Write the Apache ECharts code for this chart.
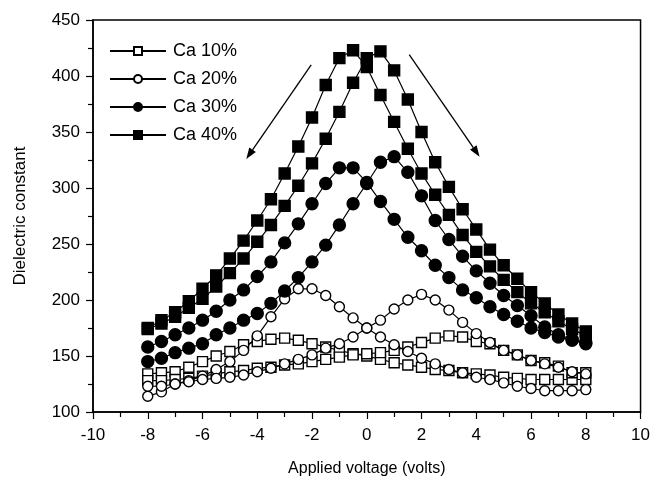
<!DOCTYPE html>
<html>
<head>
<meta charset="utf-8">
<script src="https://cdn.jsdelivr.net/npm/echarts@6/dist/echarts.min.js"></script>
<style>
  html, body { margin: 0; padding: 0; background: #fff; }
  #chart { width: 653px; height: 485px; }
</style>
</head>
<body>
<div id="chart"></div>
<script>
// Applied bias (V), swept in 0.5 V steps
var voltage = [-8, -7.5, -7, -6.5, -6, -5.5, -5, -4.5, -4, -3.5, -3, -2.5, -2, -1.5, -1, -0.5,
               0, 0.5, 1, 1.5, 2, 2.5, 3, 3.5, 4, 4.5, 5, 5.5, 6, 6.5, 7, 7.5, 8];

// Dielectric constant, two sweep branches per composition
var ca10Down = [134, 135, 136, 140, 145, 150, 154, 160, 163, 165, 166, 164, 161, 158, 155, 152,
                150, 147, 144, 142, 140, 138, 137, 135, 134, 133, 131, 130, 129, 129, 129, 129, 129];
var ca10Up   = [128, 128, 129, 130, 132, 134, 136, 137, 139, 140, 142, 143, 145, 147, 149, 151,
                152, 153, 155, 158, 162, 166, 168, 167, 163, 161, 155, 151, 146, 144, 141, 135, 135];

var ca20Down = [114, 118, 125, 128, 132, 138, 145, 155, 168, 185, 201, 210, 210, 204, 194, 184,
                175, 167, 160, 154, 148, 143, 138, 135, 131, 129, 126, 123, 121, 119, 119, 119, 120];
var ca20Up   = [123, 123, 125, 127, 129, 130, 131, 133, 136, 139, 143, 147, 151, 157, 161, 167,
                175, 182, 192, 200, 205, 200, 191, 180, 170, 162, 155, 151, 146, 143, 140, 136, 134];

var ca30Down = [158, 163, 169, 175, 182, 190, 200, 209, 221, 234, 251, 268, 286, 304, 318, 318,
                305, 288, 272, 256, 244, 231, 220, 209, 202, 194, 187, 181, 175, 171, 167, 164, 161];
var ca30Up   = [145, 148, 153, 157, 161, 169, 175, 182, 188, 197, 208, 220, 234, 249, 267, 286,
                304, 323, 328, 314, 293, 271, 254, 239, 226, 215, 204, 195, 186, 176, 169, 165, 162];

var ca40Down = [175, 182, 189, 199, 210, 222, 237, 253, 271, 290, 313, 337, 363, 392, 416, 423,
                408, 383, 359, 335, 313, 294, 276, 258, 243, 230, 218, 207, 197, 189, 181, 174, 168];
var ca40Up   = [174, 179, 185, 193, 201, 212, 224, 237, 252, 267, 284, 302, 322, 344, 368, 394,
                416, 422, 405, 379, 350, 323, 301, 281, 263, 245, 231, 219, 207, 197, 187, 179, 172];

var seriesNames = ['Ca 10%', 'Ca 20%', 'Ca 30%', 'Ca 40%'];

// Sweep-direction arrows: [start, end] in (V, dielectric constant)
var arrowLeft  = [[-2.03, 410], [-4.40, 326]];
var arrowRight = [[1.55, 419], [4.12, 328]];

function pairs(values) {
  return voltage.map(function (v, i) { return [v, values[i]]; });
}

var markerStyles = {
  'Ca 10%': { symbol: 'rect',   size: 10, fill: '#fff' },
  'Ca 20%': { symbol: 'circle', size: 10, fill: '#fff' },
  'Ca 30%': { symbol: 'circle', size: 12, fill: '#000' },
  'Ca 40%': { symbol: 'rect',   size: 11, fill: '#000' }
};

function makeSeries(name, values) {
  var m = markerStyles[name];
  return {
    name: name,
    type: 'line',
    data: pairs(values),
    symbol: m.symbol,
    symbolSize: m.size,
    showAllSymbol: true,
    lineStyle: { color: '#000', width: 1.2 },
    itemStyle: { color: m.fill, borderColor: '#000', borderWidth: 1.4 },
    emphasis: { disabled: true },
    animation: false
  };
}

var series = [
  makeSeries('Ca 10%', ca10Down), makeSeries('Ca 10%', ca10Up),
  makeSeries('Ca 20%', ca20Down), makeSeries('Ca 20%', ca20Up),
  makeSeries('Ca 30%', ca30Down), makeSeries('Ca 30%', ca30Up),
  makeSeries('Ca 40%', ca40Down), makeSeries('Ca 40%', ca40Up)
];

// sweep-direction arrows: shaft plus arrowhead, placed through the axes
function arrowItem(params, api) {
  var p0 = api.coord([api.value(0), api.value(1)]);
  var p1 = api.coord([api.value(2), api.value(3)]);
  var dx = p1[0] - p0[0], dy = p1[1] - p0[1];
  var len = Math.sqrt(dx * dx + dy * dy);
  var ux = dx / len, uy = dy / len;
  var headLen = 11, headHalf = 4;
  var bx = p1[0] - ux * headLen, by = p1[1] - uy * headLen;
  return {
    type: 'group',
    children: [
      { type: 'line', shape: { x1: p0[0], y1: p0[1], x2: bx, y2: by },
        style: { stroke: '#000', lineWidth: 1.3 } },
      { type: 'polygon', shape: { points: [
          [p1[0], p1[1]],
          [bx - uy * headHalf, by + ux * headHalf],
          [bx + uy * headHalf, by - ux * headHalf]
        ] }, style: { fill: '#000' } }
    ]
  };
}

series.push({
  type: 'custom',
  silent: true,
  animation: false,
  renderItem: arrowItem,
  encode: { x: [0, 2], y: [1, 3] },
  data: [
    [arrowLeft[0][0], arrowLeft[0][1], arrowLeft[1][0], arrowLeft[1][1]],
    [arrowRight[0][0], arrowRight[0][1], arrowRight[1][0], arrowRight[1][1]]
  ]
});

var chart = echarts.init(document.getElementById('chart'), null, { renderer: 'canvas' });
var textFont = 'Liberation Sans, Arial, sans-serif';

chart.setOption({
  backgroundColor: '#fff',
  animation: false,
  textStyle: { fontFamily: textFont, color: '#000' },
  grid: {
    left: 93, right: 11, top: 20, bottom: 73,
    show: true, borderColor: '#000', borderWidth: 1.5, backgroundColor: 'transparent'
  },
  legend: {
    data: seriesNames,
    orient: 'vertical',
    left: 104,
    top: 37,
    itemWidth: 56,
    itemHeight: 10,
    itemGap: 10,
    selectedMode: false,
    textStyle: { fontSize: 18, color: '#000', fontFamily: textFont, padding: [0, 0, 0, 2] }
  },
  xAxis: {
    type: 'value',
    min: -10, max: 10, interval: 2,
    name: 'Applied voltage (volts)',
    nameLocation: 'middle',
    nameGap: 49,
    nameTextStyle: { fontSize: 16, color: '#000' },
    axisLine: { onZero: false, lineStyle: { color: '#000', width: 1.5 } },
    axisTick: { length: 7, lineStyle: { color: '#000', width: 1.2 } },
    minorTick: { show: true, splitNumber: 2, length: 5, lineStyle: { color: '#000', width: 1.2 } },
    splitLine: { show: false },
    axisLabel: { fontSize: 17, color: '#000', margin: 15 }
  },
  yAxis: {
    type: 'value',
    min: 100, max: 450, interval: 50,
    name: 'Dielectric constant',
    nameLocation: 'middle',
    nameGap: 64,
    nameTextStyle: { fontSize: 17, color: '#000' },
    axisLine: { show: true, onZero: false, lineStyle: { color: '#000', width: 1.5 } },
    axisTick: { show: true, length: 7, lineStyle: { color: '#000', width: 1.2 } },
    minorTick: { show: true, splitNumber: 2, length: 5, lineStyle: { color: '#000', width: 1.2 } },
    splitLine: { show: false },
    axisLabel: { fontSize: 17, color: '#000', margin: 13 }
  },
  series: series
});
</script>
</body>
</html>
